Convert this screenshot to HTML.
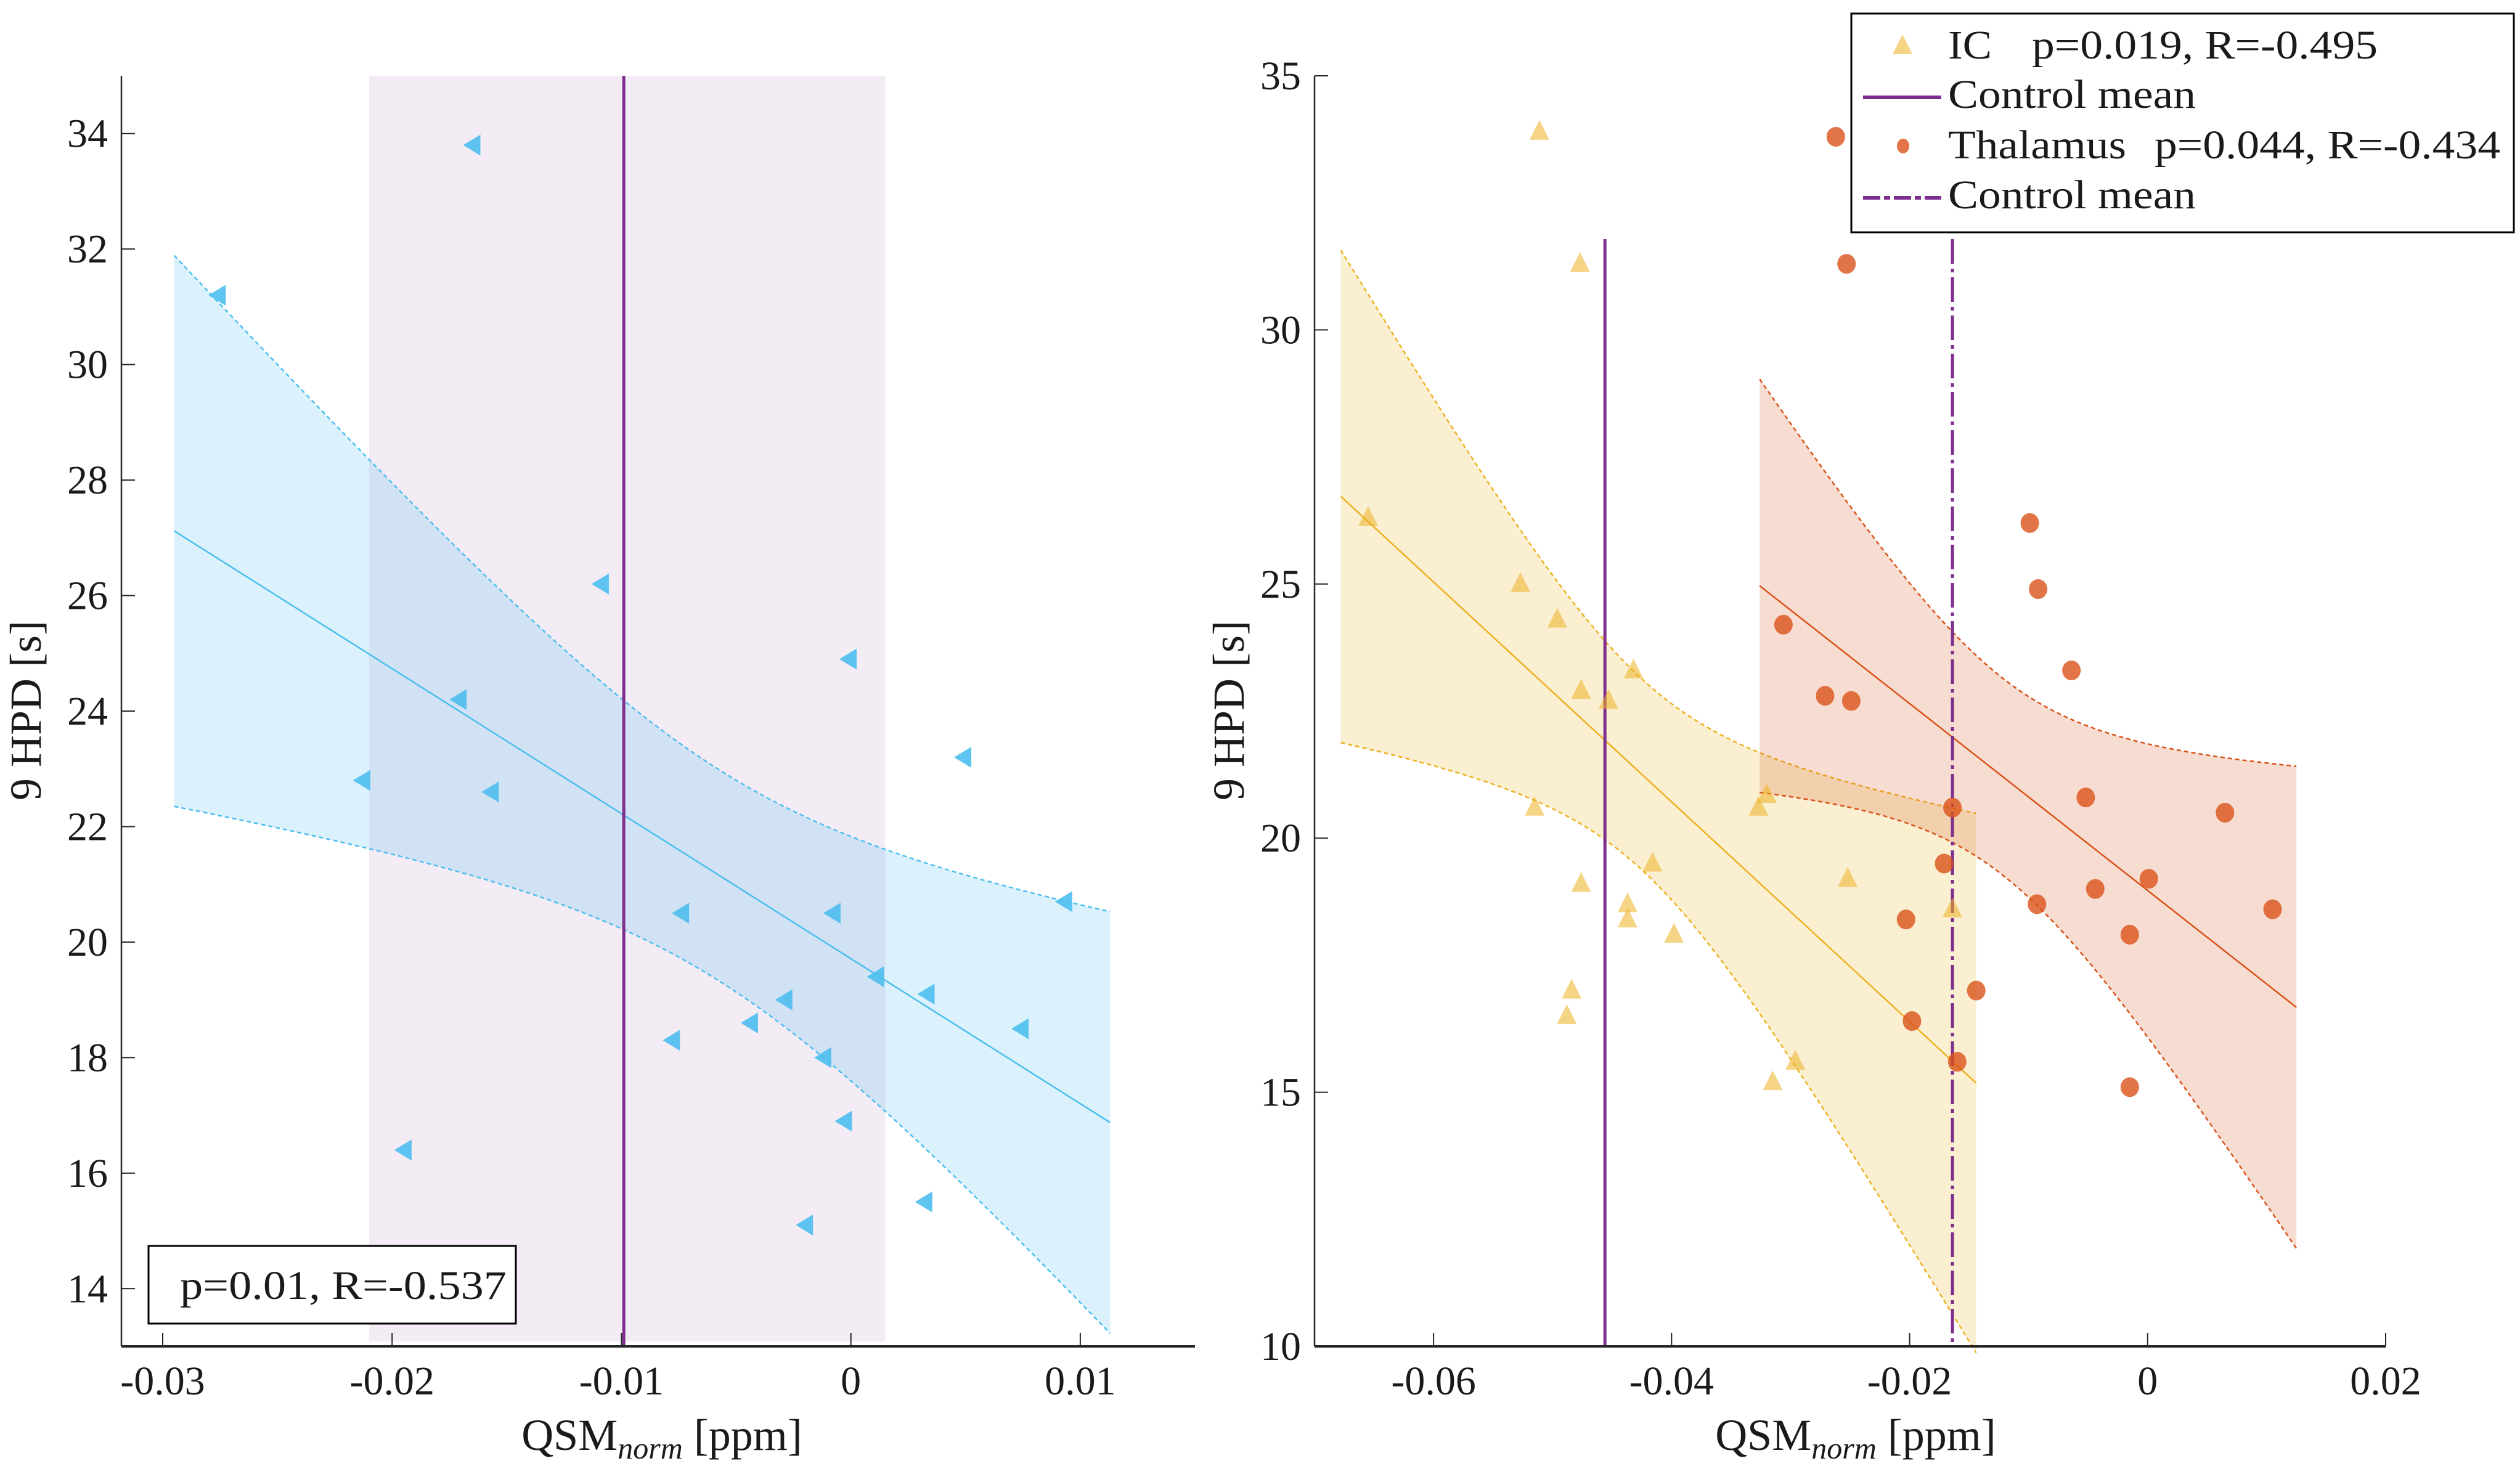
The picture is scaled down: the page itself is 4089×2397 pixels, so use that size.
<!DOCTYPE html>
<html><head><meta charset="utf-8"><style>
html,body{margin:0;padding:0;background:#fff}
svg{display:block}
text{font-family:"Liberation Serif",serif;fill:#1a1a1a}
</style></head><body>
<svg id="fig" width="4089" height="2397" viewBox="0 0 4089 2397" xmlns="http://www.w3.org/2000/svg">
<g id="left"></g>
<g id="right"></g>
</svg>
<script>
// ---------- Left panel data ----------
const leftX = [-0.0276,-0.0165,-0.0109,-0.0171,-0.0213,-0.0157,-0.0001,0.0049,0.0093,-0.0074,-0.0008,0.0011,0.0033,0.0074,-0.0029,-0.0044,-0.0078,-0.0012,-0.0003,-0.0195,0.0032,-0.0020];
const leftY = [31.2,33.8,26.2,24.2,22.8,22.6,24.9,23.2,20.7,20.5,20.5,19.4,19.1,18.5,19.0,18.6,18.3,18.0,16.9,16.4,15.5,15.1];
const leftFitRange = [-0.0295, 0.0113];
const leftControl = [-0.0099, -0.0210, 0.0015]; // mean, lower, upper
const leftXTicks = [-0.03,-0.02,-0.01,0,0.01];
const leftXTickLabels = ["-0.03","-0.02","-0.01","0","0.01"];
const leftYTicks = [14,16,18,20,22,24,26,28,30,32,34];
const leftStat = "p=0.01, R=-0.537";
// ---------- Right panel data ----------
const icX = [-0.0655,-0.0511,-0.0477,-0.0527,-0.0496,-0.0432,-0.0476,-0.0453,-0.0515,-0.0327,-0.0320,-0.0416,-0.0476,-0.0252,-0.0437,-0.0437,-0.0398,-0.0164,-0.0484,-0.0488,-0.0296,-0.0315];
const icY = [26.3,33.9,31.3,25.0,24.3,23.3,22.9,22.7,20.6,20.6,20.85,19.5,19.1,19.2,18.7,18.4,18.1,18.6,17.0,16.5,15.6,15.2];
const thX = [-0.0262,-0.0253,-0.0099,-0.0092,-0.0306,-0.0064,-0.0271,-0.0249,-0.0052,-0.0164,0.0065,-0.0171,0.0001,-0.0044,-0.0093,-0.0203,0.0105,-0.0015,-0.0144,-0.0198,-0.0160,-0.0015];
const thY = [33.8,31.3,26.2,24.9,24.2,23.3,22.8,22.7,20.8,20.6,20.5,19.5,19.2,19.0,18.7,18.4,18.6,18.1,17.0,16.4,15.6,15.1];
const icFitRange = [-0.0678, -0.0144];
const thFitRange = [-0.0326, 0.0125];
const icControl = [-0.0456];
const thControl = [-0.0164];
const rightXTicks = [-0.06,-0.04,-0.02,0,0.02];
const rightXTickLabels = ["-0.06","-0.04","-0.02","0","0.02"];
const rightYTicks = [10,15,20,25,30,35];
const legendNames = ["IC","Control mean","Thalamus","Control mean"];
const legendStats = ["p=0.019, R=-0.495","","p=0.044, R=-0.434",""];

const NS="http://www.w3.org/2000/svg";
function mk(parent, tag, attrs, txt){const e=document.createElementNS(NS,tag);for(const k in attrs)e.setAttribute(k,attrs[k]);if(txt!==undefined)e.textContent=txt;parent.appendChild(e);return e;}
function lin(d0,d1,p0,p1){return v=>p0+(v-d0)*(p1-p0)/(d1-d0);}
function regress(xs,ys){const n=xs.length;const mx=xs.reduce((a,b)=>a+b)/n,my=ys.reduce((a,b)=>a+b)/n;let sxx=0,sxy=0;for(let i=0;i<n;i++){sxx+=(xs[i]-mx)**2;sxy+=(xs[i]-mx)*(ys[i]-my);}const b=sxy/sxx,a=my-b*mx;let sse=0;for(let i=0;i<n;i++)sse+=(ys[i]-a-b*xs[i])**2;const s=Math.sqrt(sse/(n-2));return {a,b,mx,sxx,s,n};}
function band(g,xs,ys,range,sx,sy,color,fill,name){
  const r=regress(xs,ys);const t=2.086;const N=60;const up=[],lo=[],mid=[];
  for(let i=0;i<=N;i++){const x=range[0]+(range[1]-range[0])*i/N;const yh=r.a+r.b*x;const h=t*r.s*Math.sqrt(1/r.n+(x-r.mx)**2/r.sxx);up.push([sx(x),sy(yh+h)]);lo.push([sx(x),sy(yh-h)]);mid.push([sx(x),sy(yh)]);}
  const pts=up.concat(lo.slice().reverse()).map(p=>p.join(',')).join(' ');
  const poly=mk(g,'polygon',{points:pts,fill:fill,stroke:'none'});
  
  
  const u=mk(g,'polyline',{points:up.map(p=>p.join(',')).join(' '),fill:'none',stroke:color,'stroke-width':2.5,'stroke-dasharray':'7 5'});
  
  
  const l=mk(g,'polyline',{points:lo.map(p=>p.join(',')).join(' '),fill:'none',stroke:color,'stroke-width':2.5,'stroke-dasharray':'7 5'});
  
  
  const m=mk(g,'polyline',{points:mid.map(p=>p.join(',')).join(' '),fill:'none',stroke:color,'stroke-width':2.5});
  
  
}
function axes(g,x0,x1,y0,y1,sx,sy,xt,xtl,yt,xlabelX,ylabelX,pre){
  xt.forEach((v,i)=>{const x=sx(v);
    const tk=mk(g,'line',{x1:x,x2:x,y1:y0,y2:y0-22,stroke:'#262626','stroke-width':2});
    
    
    const tl=mk(g,'text',{x:x,y:2263,'font-size':66,'text-anchor':'middle'},xtl[i]);
    
    
  });
  yt.forEach(v=>{const y=sy(v);
    const tk=mk(g,'line',{x1:x0,x2:x0+22,y1:y,y2:y,stroke:'#262626','stroke-width':2});
    
    
    const tl=mk(g,'text',{x:x0-22,y:y+22,'font-size':66,'text-anchor':'end'},String(v));
    
    
  });
  const ax=mk(g,'line',{x1:x0,x2:x1,y1:y0,y2:y0,stroke:'#262626','stroke-width':4});
  
  
  const ay=mk(g,'line',{x1:x0,x2:x0,y1:y0,y2:y1,stroke:'#262626','stroke-width':2.5});
  
  
  const xl=mk(g,'text',{x:xlabelX,y:2353,'font-size':72,'text-anchor':'middle'});
  
  
  mk(xl,'tspan',{},'QSM');mk(xl,'tspan',{'font-size':50,'font-style':'italic',dy:14},'norm');mk(xl,'tspan',{dy:-14},' [ppm]');
  const yl=mk(g,'text',{x:0,y:0,'font-size':72,'text-anchor':'middle',transform:`translate(${ylabelX},1153) rotate(-90)`},'9 HPD [s]');
  
  
}
function tri(g,x,y,dir,fill,op,name){
  let pts;
  if(dir==='left') pts=`${x-15},${y} ${x+13},${y-17} ${x+13},${y+17}`;
  else pts=`${x},${y-19} ${x-16},${y+13} ${x+16},${y+13}`;
  const p=mk(g,'polygon',{points:pts,fill:fill,'fill-opacity':op});
  
  
}

// ---------- LEFT ----------
(function(){
  const g=document.getElementById('left');
  const X0=197,X1=1939,Y0=2185,Y1=123;
  const sx=lin(-0.0318,0.015,X0,X1), sy=lin(13,35,Y0,Y1);
  const sh=mk(g,'rect',{x:sx(leftControl[1]),y:Y1,width:sx(leftControl[2])-sx(leftControl[1]),height:2177-Y1,fill:'#7E2F8E','fill-opacity':0.09});
  
  
  band(g,leftX,leftY,leftFitRange,sx,sy,'#4DBEEE','rgba(77,190,238,0.2)','left');
  const cl=mk(g,'line',{x1:sx(leftControl[0]),x2:sx(leftControl[0]),y1:Y1,y2:Y0,stroke:'#7E2F8E','stroke-width':5});
  
  
  leftX.forEach((v,i)=>tri(g,sx(v),sy(leftY[i]),'left','#4DBEEE',0.9,'left-point'));
  axes(g,X0,X1,Y0,Y1,sx,sy,leftXTicks,leftXTickLabels,leftYTicks,1074,66,'left');
  const bx=mk(g,'rect',{x:241,y:2022,width:596,height:126,fill:'#fff',stroke:'#000','stroke-width':3});
  
  
  const st=mk(g,'text',{x:292,y:2108,'font-size':66,textLength:530,lengthAdjust:'spacingAndGlyphs'},leftStat);
  
  
})();

// ---------- RIGHT ----------
(function(){
  const g=document.getElementById('right');
  const X0=2133,X1=3871,Y0=2185,Y1=123;
  const sx=lin(-0.07,0.02,X0,X1), sy=lin(10,35,Y0,Y1);
  band(g,icX,icY,icFitRange,sx,sy,'#EDB120','rgba(237,177,32,0.2)','ic');
  band(g,thX,thY,thFitRange,sx,sy,'#D95319','rgba(217,83,25,0.2)','thalamus');
  const c1=mk(g,'line',{x1:sx(icControl[0]),x2:sx(icControl[0]),y1:388,y2:Y0,stroke:'#7E2F8E','stroke-width':5});
  
  
  const c2=mk(g,'line',{x1:sx(thControl[0]),x2:sx(thControl[0]),y1:388,y2:Y0,stroke:'#7E2F8E','stroke-width':5,'stroke-dasharray':'40 8 6 8'});
  
  
  icX.forEach((v,i)=>tri(g,sx(v),sy(icY[i]),'up','#EDB120',0.55,'ic-point'));
  thX.forEach((v,i)=>{const c=mk(g,'ellipse',{cx:sx(v),cy:sy(thY[i]),rx:15,ry:16,fill:'#D95319','fill-opacity':0.8});
    
    });
  axes(g,X0,X1,Y0,Y1,sx,sy,rightXTicks,rightXTickLabels,rightYTicks,3011,2018,'right');
  // legend
  const lg=mk(g,'g',{});
  
  
  mk(lg,'rect',{x:3004,y:22,width:1075,height:355,fill:'#fff',stroke:'#000','stroke-width':3});
  const rows=[95,175,257,338];
  tri(lg,3087,rows[0]-20,'up','#EDB120',0.55,'legend-ic-marker');
  const l1=mk(lg,'line',{x1:3023,x2:3150,y1:rows[1]-17,y2:rows[1]-17,stroke:'#7E2F8E','stroke-width':6});
  
  
  const lc=mk(lg,'ellipse',{cx:3088,cy:rows[2]-20,rx:10,ry:12,fill:'#D95319','fill-opacity':0.8});
  
  
  const l2=mk(lg,'line',{x1:3023,x2:3150,y1:rows[3]-17,y2:rows[3]-17,stroke:'#7E2F8E','stroke-width':6,'stroke-dasharray':'28 6 10 6'});
  
  
  const nameLen=[71,402,289,402];
  const statX=[3297,0,3496,0];
  legendNames.forEach((s,i)=>{const t=mk(lg,'text',{x:3161,y:rows[i],'font-size':66,textLength:nameLen[i],lengthAdjust:'spacingAndGlyphs'},s);
    
    
    if(legendStats[i]){const t2=mk(lg,'text',{x:statX[i],y:rows[i],'font-size':66,textLength:561,lengthAdjust:'spacingAndGlyphs'},legendStats[i]);
      
      }
  });
})();
</script>
</body></html>
